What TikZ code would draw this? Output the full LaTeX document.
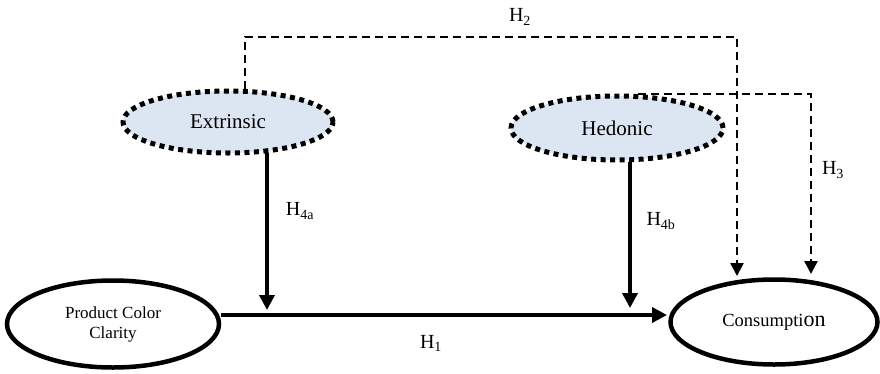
\documentclass[tikz,border=0pt]{standalone}
\usepackage{fontspec}
\setmainfont{Liberation Serif}
\usetikzlibrary{shapes.geometric,arrows.meta,calc}
\definecolor{lightfill}{HTML}{DCE6F2}
\begin{document}
\begin{tikzpicture}[x=1pt,y=-1pt,
  dotell/.style={ellipse,draw,fill=lightfill,line width=5pt,dash pattern=on 5pt off 4.5pt,inner sep=0pt,font=\fontsize{21}{24}\selectfont},
  solell/.style={ellipse,draw,line width=4.5pt,inner sep=0pt},
  solarrow/.style={line width=3.6pt,-{Triangle[length=15pt,width=15pt]}},
  dasharrow/.style={line width=2.4pt,dash pattern=on 8pt off 5pt,-{Triangle[length=13pt,width=13pt]}},
  hlabel/.style={font=\fontsize{20}{22}\selectfont,inner sep=0pt}]
\useasboundingbox (0,0) rectangle (880,373);
\node[dotell,minimum width=210pt,minimum height=62pt] (ext) at (228,122) {Extrinsic};
\node[dotell,minimum width=212pt,minimum height=64pt] (hed) at (617,128) {Hedonic};
\node[solell,minimum width=212pt,minimum height=87pt,align=center,font=\fontsize{17}{20}\selectfont] (pcc) at (113,324) {Product Color\\Clarity};
\node[solell,minimum width=207pt,minimum height=85pt,font=\fontsize{18.5}{22}\selectfont] (cons) at (774,322) {Consumpti{\fontsize{22}{24}\selectfont on}};
% coordinates
\coordinate (h1s) at (221,315);
\coordinate (h1e) at (667,315);
\coordinate (h4at) at (267,310);
\coordinate (h4bt) at (630,308);
\coordinate (h2c) at (737,37);
\coordinate (h2e) at (737,276);
\coordinate (h3c) at (811,94);
\coordinate (h3e) at (811,274);
% H1
\draw[solarrow] (h1s) -- (h1e);
% H4a, H4b
\draw[solarrow] ($(ext.south)+(39,-2.5)$) -- (h4at);
\draw[solarrow] ($(hed.south)+(13,-1)$) -- (h4bt);
% H2
\draw[dasharrow] ($(ext.north)+(17,0.5)$) |- (h2c) -- (h2e);
% H3
\draw[dasharrow] ($(hed.north)+(21,0.5)$) -- (h3c) -- (h3e);
% labels
\node[hlabel] (lh2) at (520,17) {H\textsubscript{2}};
\node[hlabel] (lh3) at (833,170) {H\textsubscript{3}};
\node[hlabel] (lh4a) at (300,211) {H\textsubscript{4a}};
\node[hlabel] (lh4b) at (661,221) {H\textsubscript{4b}};
\node[hlabel] (lh1) at (431,343) {H\textsubscript{1}};
\end{tikzpicture}
\end{document}
